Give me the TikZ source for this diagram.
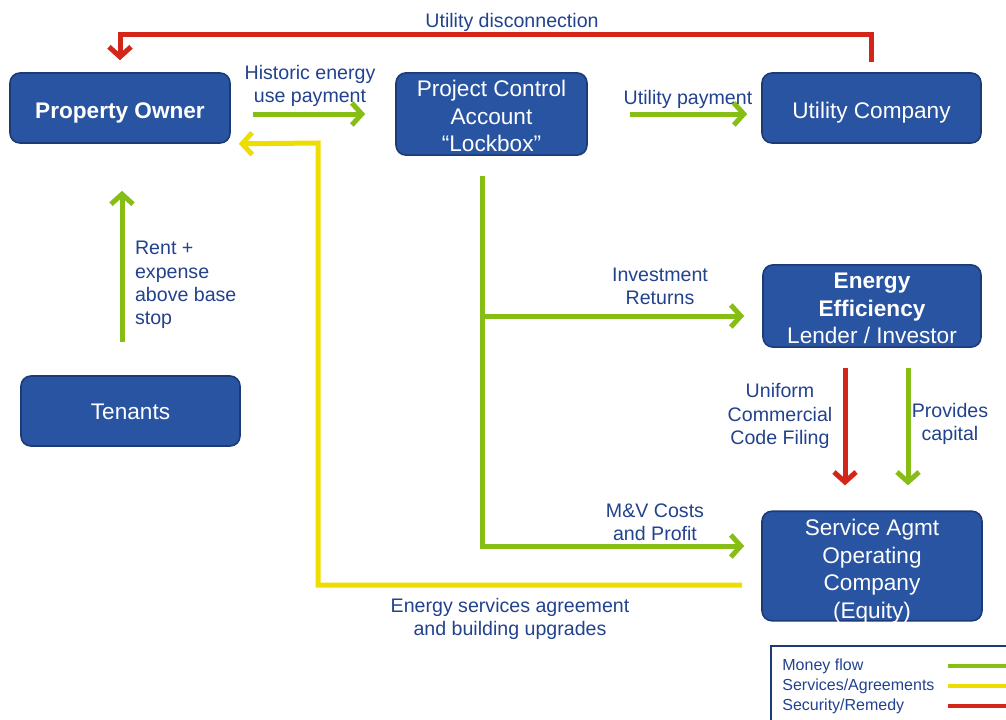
\documentclass[tikz,border=0pt]{standalone}
\usepackage{fontspec}
\setmainfont{Liberation Sans}
\usetikzlibrary{arrows.meta,positioning}
\definecolor{boxblue}{RGB}{41,84,162}
\definecolor{boxedge}{RGB}{28,58,118}
\definecolor{labelblue}{RGB}{34,66,142}
\definecolor{moneygreen}{RGB}{134,190,22}
\definecolor{serviceyellow}{RGB}{240,221,0}
\definecolor{securityred}{RGB}{212,38,24}
% box text, lowered without changing the box
\newcommand{\boxtext}[2]{\raisebox{#1}[\height][\depth]{\begin{tabular}{@{}c@{}}#2\end{tabular}}}

\begin{document}
\begin{tikzpicture}[x=0.5pt, y=-0.5pt,
  party/.style={rectangle, rounded corners=5pt, draw=boxedge, line width=0.8pt, fill=boxblue, text=white, font=\fontsize{11.3}{13.7}\selectfont, inner sep=0pt},
  lbl/.style={text=labelblue, align=center, font=\fontsize{9.8}{11.6}\selectfont},
  flow/.style={line width=2.5pt, -{Straight Barb[length=5pt,width=11pt]}},
  money/.style={flow, draw=moneygreen},
  service/.style={flow, draw=serviceyellow},
  security/.style={flow, draw=securityred}]
\useasboundingbox (0,0) rectangle (1006,719);

% parties
\node[party, minimum width=110pt, minimum height=35pt] (owner) at (120,108) {\boxtext{-2.5pt}{\textbf{Property Owner}}};
\node[party, minimum width=95.5pt, minimum height=41pt] (pca) at (491.5,114) {\boxtext{-2.3pt}{Project Control\\Account\\``Lockbox''}};
\node[party, minimum width=109.5pt, minimum height=35pt] (util) at (871.5,108) {\boxtext{-2.5pt}{Utility Company}};
\node[party, minimum width=109pt, minimum height=41pt] (lender) at (872,306) {\boxtext{-2.4pt}{\textbf{Energy}\\\textbf{Efficiency}\\Lender / Investor}};
\node[party, minimum width=110pt, minimum height=54pt] (svc) at (872,566) {\boxtext{-2.8pt}{Service Agmt\\Operating\\Company\\(Equity)}};
\node[party, minimum width=109.5pt, minimum height=35pt] (tenants) at (130.5,411) {\boxtext{-1.5pt}{Tenants}};
\coordinate (upg) at (318,143);

% flows
\draw[security] ([yshift=5pt]util.north) -- ++(0,-28) -| ([yshift=6pt]owner.north);
\draw[money, shorten <=11pt, shorten >=15pt] (owner.east |- pca.west) -- (pca.west);
\draw[money, shorten <=21pt, shorten >=7pt] (pca.east) -- (pca.east -| util.west);
\draw[money] ([shift={(-4.5pt,-10pt)}]pca.south) |- ([shift={(-9pt,-5pt)}]lender.west);
\draw[money] ([shift={(-4.5pt,-10pt)}]pca.south) |- ([shift={(-8.5pt,10pt)}]svc.west);
\draw[service] ([shift={(-9.5pt,-9.5pt)}]svc.west) -| (upg) -- ([xshift=4pt]owner.south east);
\draw[money] ([shift={(-4.25pt,16.5pt)}]tenants.north) -- ([shift={(1pt,-23.5pt)}]owner.south);
\draw[security] ([shift={(-13.5pt,-10pt)}]lender.south) -- ([shift={(-13.5pt,12.5pt)}]svc.north);
\draw[money] ([shift={(18pt,-10pt)}]lender.south) -- ([shift={(18pt,12.5pt)}]svc.north);

% labels
\node[lbl] at (512,22) {Utility disconnection};
\node[lbl] at (310,86) {Historic energy\\use payment};
\node[lbl] at (688,99) {Utility payment};
\node[lbl] at (660,286) {Investment\\Returns};
\node[lbl] at (655,522) {M\&V Costs\\and Profit};
\node[lbl] at (510,619) {Energy services agreement\\and building upgrades};
\node[lbl, align=left, anchor=west] at (128,285) {Rent +\\expense\\above base\\stop};
\node[lbl] at (780,416) {Uniform\\Commercial\\Code Filing};
\node[lbl] at (950,424) {Provides\\capital};

% legend
\draw[boxedge, line width=1pt] (1010,646) -- (771,646) -- (771,725);
\foreach \txt/\col/\yy in {Money flow/moneygreen/666, {Services/Agreements}/serviceyellow/686, {Security/Remedy}/securityred/706}
  {\node[text=labelblue, anchor=west, inner sep=0pt, font=\fontsize{8}{9}\selectfont] at (782,\yy) {\txt};
   \draw[\col, line width=2pt] (948,\yy) -- (1006,\yy);}
\end{tikzpicture}
\end{document}
